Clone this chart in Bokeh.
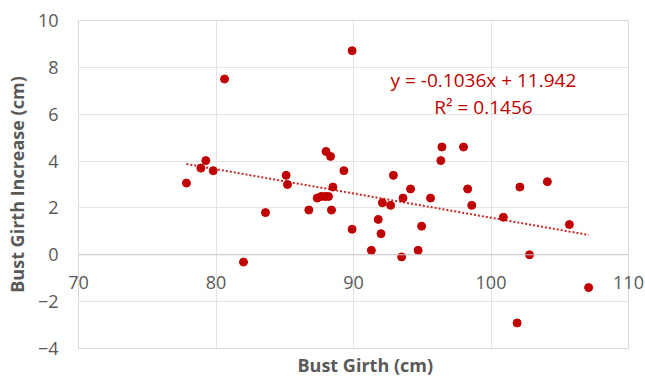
from bokeh.plotting import figure
from bokeh.models import LinearAxis, FixedTicker, Label, Title, ColumnDataSource, Span
from bokeh.embed import file_html
from bokeh.resources import INLINE

bust_girth = [77.85, 78.9, 79.26, 79.8, 80.62, 82.0, 83.6, 85.1, 85.2, 86.75,
              87.36, 87.65, 87.94, 88.18, 88.0, 88.33, 88.4, 88.5, 89.3, 89.9,
              89.9, 91.3, 91.8, 92.0, 92.1, 92.7, 92.9, 93.5, 93.6, 94.15,
              94.7, 94.95, 95.6, 96.35, 96.43, 98.0, 98.3, 98.6, 100.9, 101.9,
              102.1, 102.8, 104.1, 105.7, 107.1]
girth_increase = [3.06, 3.70, 4.02, 3.59, 7.50, -0.31, 1.80, 3.39, 3.00, 1.91,
                  2.42, 2.49, 2.49, 2.49, 4.41, 4.20, 1.91, 2.89, 3.59, 8.71,
                  1.09, 0.19, 1.51, 0.90, 2.22, 2.11, 3.39, -0.09, 2.42, 2.81,
                  0.19, 1.22, 2.42, 4.02, 4.60, 4.60, 2.81, 2.11, 1.60, -2.91,
                  2.89, 0.00, 3.12, 1.29, -1.40]
trend_slope = -0.1036
trend_intercept = 11.942
r_squared = 0.1456
x_ticks = [70, 80, 90, 100, 110]
y_ticks = [-4, -2, 0, 2, 4, 6, 8, 10]

FONT = "Open Sans"
GREY = "#595959"
RED = "#C00000"

p = figure(width=645, height=382, x_range=(70, 110), y_range=(-4, 10),
           output_backend="svg", toolbar_location=None,
           x_axis_location=None, y_axis_location=None,
           min_border_left=78, min_border_right=17, min_border_top=20,
           min_border_bottom=34)
p.background_fill_color = "white"
p.border_fill_color = "white"
p.outline_line_color = "#D9D9D9"

# x axis: labels drawn next to the y = 0 crossing line
xax = LinearAxis(ticker=FixedTicker(ticks=x_ticks))
xax.axis_line_color = None
xax.major_tick_line_color = None
xax.minor_tick_line_color = None
xax.major_tick_out = 0
xax.major_tick_in = 0
xax.minor_tick_out = 0
xax.minor_tick_in = 0
xax.major_label_standoff = -73
xax.major_label_text_font = FONT
xax.major_label_text_font_size = "18px"
xax.major_label_text_color = GREY
p.add_layout(xax, "below")

yax = LinearAxis(ticker=FixedTicker(ticks=y_ticks))
yax.axis_line_color = None
yax.major_tick_line_color = None
yax.minor_tick_line_color = None
yax.major_tick_out = 0
yax.major_tick_in = 0
yax.minor_tick_out = 0
yax.minor_tick_in = 0
yax.major_label_standoff = 20
yax.major_label_text_font = FONT
yax.major_label_text_font_size = "18px"
yax.major_label_text_color = GREY
yax.axis_label = "Bust Girth Increase (cm)"
yax.axis_label_text_font = FONT
yax.axis_label_text_font_size = "18px"
yax.axis_label_text_font_style = "bold"
yax.axis_label_text_color = GREY
yax.axis_label_standoff = 6
p.add_layout(yax, "left")

p.xgrid.ticker = FixedTicker(ticks=x_ticks)
p.ygrid.ticker = FixedTicker(ticks=y_ticks)
p.xgrid.grid_line_color = "#E3E3E3"
p.ygrid.grid_line_color = "#E3E3E3"

p.add_layout(Span(location=0, dimension="width", line_color="#C8C8C8",
                  line_width=1))

xt = Title(text="Bust Girth (cm)", align="left", offset=219, standoff=5,
           text_font=FONT, text_font_size="18px", text_font_style="bold",
           text_color=GREY)
p.add_layout(xt, "below")

# trend line
x0, x1 = min(bust_girth), max(bust_girth)
trend = ColumnDataSource(dict(x=[x0, x1],
                              y=[trend_slope * x0 + trend_intercept,
                                 trend_slope * x1 + trend_intercept]))
p.line("x", "y", source=trend, line_color=RED, line_width=2,
       line_dash="2 2", line_alpha=0.85)

src = ColumnDataSource(dict(x=bust_girth, y=girth_increase))
p.scatter("x", "y", source=src, size=8, fill_color=RED, line_color=RED)

eq = f"y = {trend_slope:.4f}x + {trend_intercept:.3f}"
r2 = f"R\u00b2 = {r_squared:.4f}"
p.add_layout(Label(x=99.45, y=7.44, text=eq, text_align="center",
                   text_baseline="middle", text_font=FONT,
                   text_font_size="19px", text_color=RED))
p.add_layout(Label(x=99.45, y=6.29, text=r2, text_align="center",
                   text_baseline="middle", text_font=FONT,
                   text_font_size="19px", text_color=RED))

open("out.html", "w").write(file_html(p, INLINE))
